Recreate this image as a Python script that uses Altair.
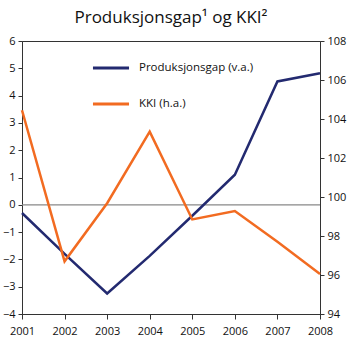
import altair as alt
import pandas as pd

years = [2001, 2002, 2003, 2004, 2005, 2006, 2007, 2008]
gap = [-0.3, -1.8, -3.25, -1.87, -0.4, 1.1, 4.52, 4.82]
kki = [104.45, 96.7, 99.68, 103.35, 98.85, 99.28, 97.7, 96.05]
names = ["Produksjonsgap (v.a.)", "KKI (h.a.)"]
colors = ["#232a70", "#f26b21"]

df = pd.DataFrame({"year": years, "gap": gap, "kki": kki})
zero = pd.DataFrame({"gap": [0]})

FONT = "Open Sans"
xenc = alt.X("year:Q", scale=alt.Scale(domain=[2001, 2008], nice=False, zero=False),
             axis=alt.Axis(values=years, format="d", title=None, grid=False,
                           labelFontSize=11, labelPadding=6, tickSize=5, labelFlush=False,
                           domainColor="#333", tickColor="#333", labelColor="#111"))
color_scale = alt.Scale(domain=names, range=colors)
yleft = alt.Y("gap:Q", scale=alt.Scale(domain=[-4, 6], nice=False),
              axis=alt.Axis(values=list(range(-4, 7)), title=None, grid=False, orient="left",
                            labelFontSize=11, tickSize=4, labelPadding=3, labelFlush=False,
                            labelOverlap=False,
                            domainColor="#333", tickColor="#333", labelColor="#111"))

left = alt.Chart(df).mark_line(strokeWidth=2.5).encode(
    x=xenc,
    y=yleft,
    color=alt.Color("s:N", scale=color_scale,
                    legend=alt.Legend(orient="none", legendX=69, legendY=7, title=None,
                                      symbolType="stroke", symbolStrokeWidth=3, symbolSize=1300,
                                      labelFontSize=11.5, labelFont=FONT, rowPadding=10,
                                      labelOffset=8, labelColor="#111")),
).transform_calculate(s="'Produksjonsgap (v.a.)'")

zl = alt.Chart(zero).mark_rule(color="#888", strokeWidth=1.2).encode(y=yleft)

right = alt.Chart(df).mark_line(strokeWidth=2.5).encode(
    x=xenc,
    y=alt.Y("kki:Q", scale=alt.Scale(domain=[94, 108], nice=False, zero=False),
            axis=alt.Axis(values=list(range(94, 109, 2)), title=None, grid=False, orient="right",
                          labelFontSize=11, tickSize=4, labelPadding=3, labelFlush=False,
                          labelOverlap=False,
                          domainColor="#333", tickColor="#333", labelColor="#111")),
    color=alt.Color("s:N", scale=color_scale),
).transform_calculate(s="'KKI (h.a.)'")

leftlayer = alt.layer(zl, left)

chart = alt.layer(leftlayer, right).resolve_scale(y="independent").properties(
    width=298, height=273,
    title=alt.TitleParams("Produksjonsgap¹ og KKI²", fontSize=17, font=FONT,
                          fontWeight="normal", color="#111", offset=8),
    autosize=alt.AutoSizeParams(type="none"),
    padding={"left": 22, "top": 41, "right": 30, "bottom": 28},
).configure_view(stroke="#333", strokeWidth=1).configure_axis(labelFont=FONT)

chart.save("out.html", embed_options={"renderer": "svg", "actions": False})
